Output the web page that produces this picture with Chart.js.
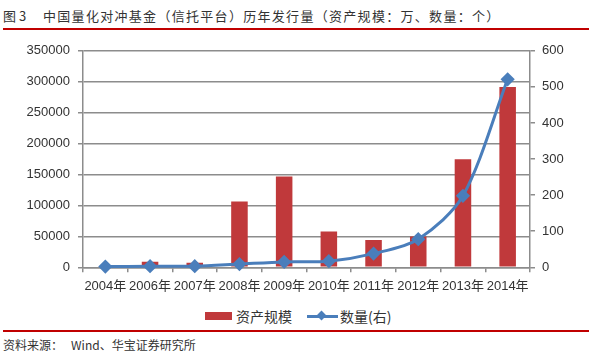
<!DOCTYPE html>
<html>
<head>
<meta charset="utf-8">
<script src="https://cdn.jsdelivr.net/npm/chart.js@4"></script>
<style>
  body { margin: 0; background: #fff; width: 600px; height: 352px; overflow: hidden; position: relative;
         font-family: "Noto Sans CJK SC", sans-serif; color: #333; }
  #title { position: absolute; left: 3px; top: 6px; font-size: 13px; letter-spacing: 1.3px; white-space: nowrap; }
  #title .num { display: inline-block; width: 40px; letter-spacing: 0; }
  .rule { position: absolute; left: 3px; width: 586px; height: 2px; background: #c00000; }
  #wrap { position: absolute; left: 0; top: 35px; width: 600px; height: 265px; }
  #legend { position: absolute; top: 306px; left: 0; width: 600px; font-size: 14px; }
  .item { position: absolute; top: 0; white-space: nowrap; line-height: 20px; }
  .swatch { position: absolute; }
  #source { position: absolute; left: 3px; top: 336px; font-size: 12px; white-space: nowrap; }
</style>
</head>
<body>
<div id="title"><span class="num">图&nbsp;3</span>中国量化对冲基金（信托平台）历年发行量（资产规模：万、数量：个）</div>
<div class="rule" style="top:28px"></div>
<div id="wrap"><canvas id="chart"></canvas></div>
<div id="legend">
  <div class="swatch" style="left:205px;top:6px;width:27px;height:8px;background:#c0393b"></div>
  <div class="item" style="left:236px">资产规模</div>
  <div class="swatch" style="left:307px;top:9px;width:31px;height:3px;background:#4a7ebb"></div>
  <div class="swatch" style="left:318px;top:6px;width:7px;height:7px;background:#4a7ebb;transform:rotate(45deg)"></div>
  <div class="item" style="left:340px">数量(右)</div>
</div>
<div class="rule" style="top:330px"></div>
<div id="source">资料来源：&nbsp;&nbsp;&nbsp;Wind、华宝证券研究所</div>
<script>
const years = ['2004年', '2006年', '2007年', '2008年', '2009年', '2010年', '2011年', '2012年', '2013年', '2014年'];
const assetScale = [0, 8800, 7300, 106300, 146900, 57800, 44200, 49900, 174700, 291600];
const fundCount = [2, 3, 3, 9, 15, 17, 38, 78, 198, 521];

const gridColor = '#8c8c8c';
const tickFont = { family: 'Liberation Sans, Noto Sans CJK SC, sans-serif', size: 13 };

new Chart(document.getElementById('chart'), {
  data: {
    labels: years,
    datasets: [
      {
        type: 'bar',
        label: '资产规模',
        data: assetScale,
        backgroundColor: '#c0393b',
        barPercentage: 0.37,
        categoryPercentage: 1,
        yAxisID: 'y',
        order: 1,
      },
      {
        type: 'line',
        label: '数量(右)',
        data: fundCount,
        borderColor: '#4a7ebb',
        backgroundColor: '#4a7ebb',
        borderWidth: 3,
        tension: 0.3,
        pointStyle: 'rectRot',
        pointRadius: 5,
        clip: false,
        yAxisID: 'y1',
        order: 0,
      },
    ],
  },
  options: {
    responsive: true,
    maintainAspectRatio: false,
    animation: false,
    layout: { padding: { top: 10.7, bottom: 0, left: 0, right: 0 } },
    plugins: { legend: { display: false }, tooltip: { enabled: false } },
    scales: {
      x: {
        grid: { drawOnChartArea: false, offset: true, tickLength: 5, color: gridColor, lineWidth: 1.5 },
        border: { color: gridColor, width: 1.5 },
        ticks: { autoSkip: false, maxRotation: 0, padding: 6, color: '#333', font: tickFont },
        afterFit: (scale) => { scale.height = 32.7; },
      },
      y: {
        position: 'left',
        min: 0,
        max: 350000,
        ticks: { stepSize: 50000, padding: 8, color: '#333', font: tickFont, callback: (v) => String(v) },
        grid: { color: gridColor, lineWidth: 1.5, tickLength: 5 },
        border: { color: gridColor, width: 1.5 },
        afterFit: (scale) => { scale.width = 83; },
      },
      y1: {
        position: 'right',
        min: 0,
        max: 600,
        ticks: { stepSize: 100, padding: 7, color: '#333', font: tickFont },
        grid: { drawOnChartArea: false, color: gridColor, lineWidth: 1.5, tickLength: 5 },
        border: { color: gridColor, width: 1.5 },
        afterFit: (scale) => { scale.width = 70; },
      },
    },
  },
});
</script>
</body>
</html>
